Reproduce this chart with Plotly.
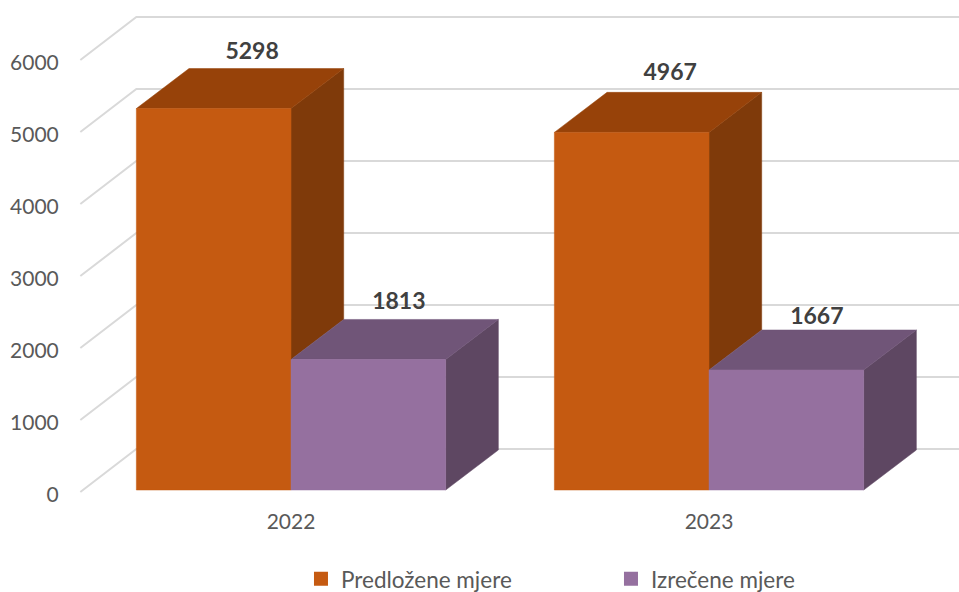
import plotly.graph_objects as go

# --- data ---
years = ["2022", "2023"]
series_names = ["Predložene mjere", "Izrečene mjere"]
proposed = [5298, 4967]
imposed = [1813, 1667]
value_ticks = [0, 1000, 2000, 3000, 4000, 5000, 6000]

# --- styles / projection constants ---
FRONT = ["#C55A11", "#95709F"]
TOP = ["#974209", "#705578"]
SIDE = ["#7F3A0A", "#5E4762"]
GRID = "#D9D9D9"
FONT = "Lato"

BAR_W = 0.37        # bar width, category units
DX, DY = 0.126, 556 # bar depth (oblique projection), in axis units
WALL_DX = 0.134     # wall depth
WALL_BACK, WALL_FRONT = 569, -28  # back / front offset of the gridlines
LABEL_DX = [0.092, 0.073]
LABEL_DY = [[762, 804], [776, 720]]

positions = list(range(1, len(years) + 1))
fig = go.Figure()


def poly(xs, ys, color):
    fig.add_trace(go.Scatter(
        x=xs + xs[:1], y=ys + ys[:1], mode="lines", fill="toself", fillcolor=color,
        line=dict(color=color, width=0.5), showlegend=False, hoverinfo="skip"))


# walls: gridlines
x_wall_back = 1 - BAR_W
x_wall_front = x_wall_back - WALL_DX
x_right = 2.6
for v in value_ticks:
    fig.add_trace(go.Scatter(
        x=[x_wall_front, x_wall_back, x_right],
        y=[v + WALL_FRONT, v + WALL_BACK, v + WALL_BACK],
        mode="lines", line=dict(color=GRID, width=2), showlegend=False, hoverinfo="skip"))

for p, a, b in zip(positions, proposed, imposed):
    x0, x1, x2 = p - BAR_W, p, p + BAR_W
    # orange bar: side (only what the purple bar leaves visible), top, front
    poly([x1, x1 + DX, x1 + DX, x1], [a, a + DY, b + DY, b], SIDE[0])
    poly([x0, x0 + DX, x1 + DX, x1], [a, a + DY, a + DY, a], TOP[0])
    poly([x0, x1, x1, x0], [0, 0, a, a], FRONT[0])
    # purple bar
    poly([x2, x2 + DX, x2 + DX, x2], [0, DY, b + DY, b], SIDE[1])
    poly([x1, x1 + DX, x2 + DX, x2], [b, b + DY, b + DY, b], TOP[1])
    poly([x1, x2, x2, x1], [0, 0, b, b], FRONT[1])

# data labels
for i, vals in enumerate([proposed, imposed]):
    centers = [p + (i - 0.5) * BAR_W + LABEL_DX[i] for p in positions]
    fig.add_trace(go.Scatter(
        x=centers, y=[v + d for v, d in zip(vals, LABEL_DY[i])], mode="text",
        text=[str(v) for v in vals], textposition="middle center",
        textfont=dict(family=FONT, size=23, color="#404040", weight="bold"),
        showlegend=False, hoverinfo="skip"))

# legend entries
for name, c in zip(series_names, FRONT):
    fig.add_trace(go.Scatter(
        x=[None], y=[None], mode="markers", name=name,
        marker=dict(symbol="square", size=14, color=c)))

fig.update_layout(
    width=959, height=592,
    margin=dict(l=78, r=0, t=0, b=97, autoexpand=False),
    paper_bgcolor="white", plot_bgcolor="white",
    showlegend=True,
    legend=dict(orientation="h", x=0.2531, y=-0.1700, xanchor="left", yanchor="middle",
                entrywidth=265, entrywidthmode="pixels",
                font=dict(family=FONT, size=22.5, color="#595959"),
                bgcolor="rgba(0,0,0,0)"),
    xaxis=dict(range=[0.4904, 2.598], tickvals=positions, ticktext=years,
               showgrid=False, zeroline=False, showline=False,
               ticks="outside", ticklen=8, tickcolor="rgba(0,0,0,0)",
               tickfont=dict(family=FONT, size=21, color="#595959")),
    yaxis=dict(range=[-69, 6805.6], tickvals=value_ticks,
               showgrid=False, zeroline=False, showline=False,
               ticks="outside", ticklen=14, tickcolor="rgba(0,0,0,0)",
               ticklabelshift=5,
               tickfont=dict(family=FONT, size=21, color="#595959")),
)

# Drop the browser's default 8 px page margin so the figure fills the window.
fig.write_html("out.html", post_script="document.body.style.margin='0';",
               config={"displayModeBar": False})
